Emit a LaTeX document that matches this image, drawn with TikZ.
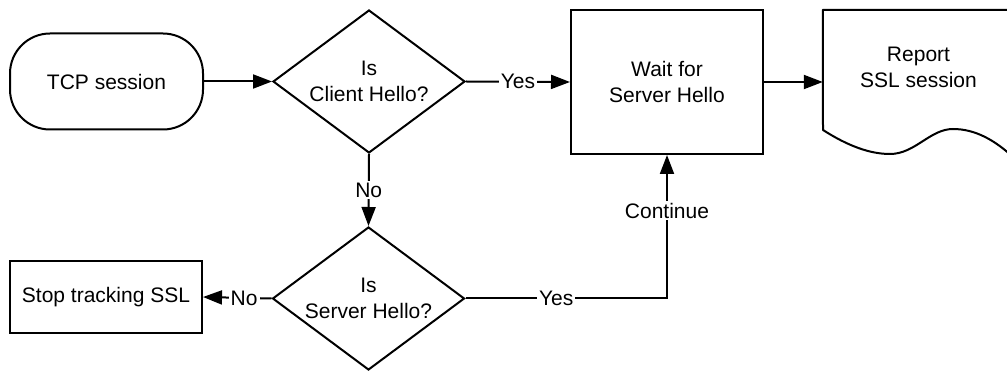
\documentclass[tikz,border=0pt]{standalone}
\usepackage{fontspec}
\setmainfont{Liberation Sans}
\usetikzlibrary{shapes.geometric,arrows.meta}

\tikzset{
  every node/.style={font=\fontsize{21}{26}\selectfont, align=center},
  shape line/.style={draw=black, line width=2pt},
  terminal/.style={shape line, rectangle, rounded corners=40pt, minimum width=193pt, minimum height=96pt, inner sep=0pt},
  process/.style={shape line, rectangle, minimum width=192pt, minimum height=144pt, inner sep=0pt},
  smallbox/.style={shape line, rectangle, minimum width=192pt, minimum height=72pt, inner sep=0pt},
  decision/.style={shape line, diamond, aspect=1.33, minimum width=192pt, minimum height=143pt, inner sep=0pt},
  flow/.style={line width=2pt, -{Triangle[length=19pt,width=14pt]}},
  edgelabel/.style={fill=white, inner sep=2pt},
}

\begin{document}
\begin{tikzpicture}[x=1pt, y=-1pt]
  \useasboundingbox (0,0) rectangle (1007,371);

  % flowchart blocks
  \node[terminal] (tcp) at (106.5,81.5) {TCP session};
  \node[decision] (client) at (369,81.5) {Is\\Client Hello?};
  \node[process] (wait) at (667,82) {Wait for\\Server Hello};
  \node[decision] (server) at (368.5,298.5) {Is\\Server Hello?};
  \node[smallbox] (stop) at (106,297) {Stop tracking SSL};

  % document block (cut by the right edge)
  \node[minimum width=191pt, minimum height=144pt, inner sep=0pt] (report) at (918.5,82) {};
  \begin{scope}
    \clip (0,0) rectangle (1007,371);
    \draw[line width=2pt, line join=round]
      (report.north west) -- (report.north east) -- ([yshift=-4pt]report.south east)
      .. controls (995,140) and (975,129) .. (953,129)
      .. controls (930,129) and (915,154) .. (890,154)
      .. controls (870,154) and (848,146) .. (823,130) -- cycle;
  \end{scope}
  \node (reporttext) at (918.5,67) {Report\\SSL session};

  % connectors
  \draw[flow] (tcp.east) -- (client.west);
  \draw[flow] (client.east) -- node[edgelabel] {Yes} (wait.west);
  \draw[flow] (wait.east) -- (report.west);
  \draw[flow] (client.south) -- node[edgelabel] {No} (server.north);
  \draw[flow] (server.west) -- node[edgelabel, pos=0.4] {No} (stop.east);
  \draw[flow] (server.east) -| node[edgelabel, pos=0.225] {Yes}
                               node[edgelabel, pos=0.806] {Continue} (wait.south);
\end{tikzpicture}
\end{document}
